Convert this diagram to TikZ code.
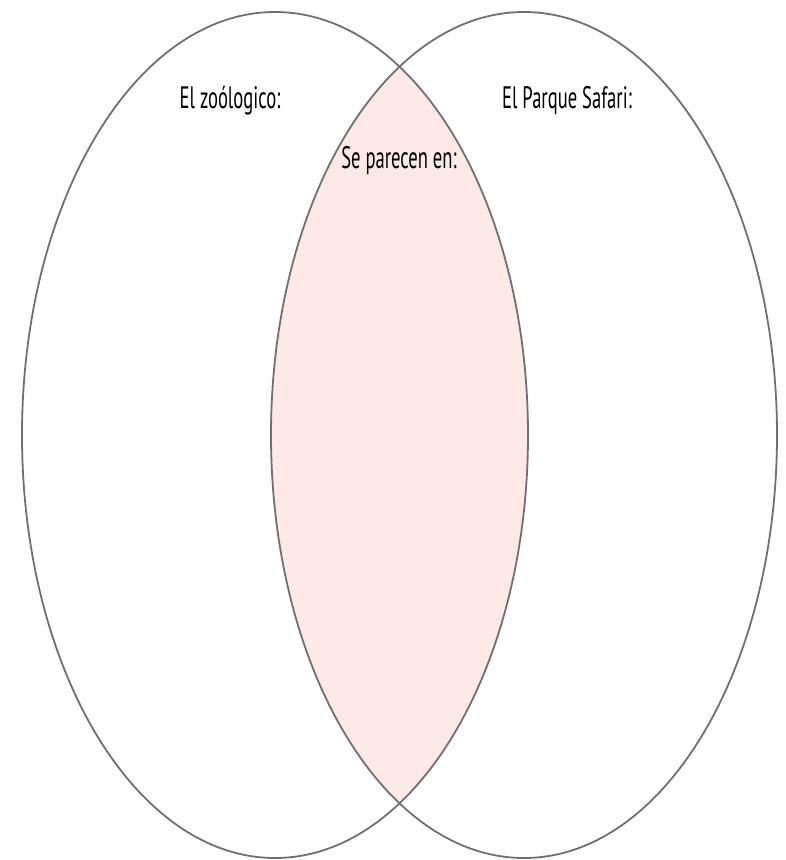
\documentclass[tikz,border=0pt]{standalone}
\usepackage{fontspec}
\setmainfont{PT Sans}[FakeStretch=0.6]
\usepackage{xcolor}
\usepackage{tikz}
\definecolor{overlapfill}{RGB}{253,234,231}
\definecolor{ringline}{RGB}{112,112,112}
\tikzset{
  ring/.style={draw=ringline,line width=1.8pt},
  heading/.style={font=\fontsize{31}{34}\selectfont,inner sep=0pt,anchor=center}
}

\begin{document}
\begin{tikzpicture}[x=1pt,y=-1pt]
  \useasboundingbox (0,0) rectangle (786,860);
  % overlap of the two sets
  \begin{scope}
    \clip (275,435) ellipse [x radius=253,y radius=423];
    \fill[overlapfill] (524,435) ellipse [x radius=253,y radius=423];
  \end{scope}
  \draw[ring] (275,435) ellipse [x radius=253,y radius=423];
  \draw[ring] (524,435) ellipse [x radius=253,y radius=423];
  \node[heading] (zoo) at (230,101) {El zoólogico:};
  \node[heading] (safari) at (567,101) {El Parque Safari:};
  \node[heading] (both) at (399,161) {Se parecen en:};
\end{tikzpicture}
\end{document}
